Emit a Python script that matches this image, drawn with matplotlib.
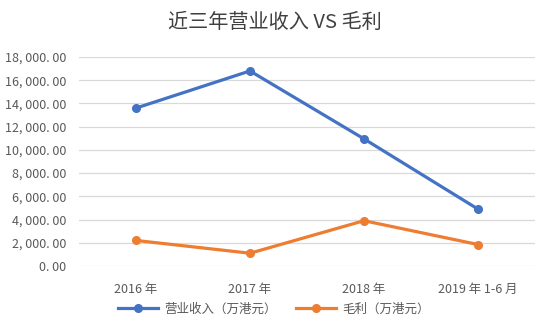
import matplotlib
matplotlib.use("Agg")
import matplotlib.pyplot as plt
from matplotlib.ticker import FuncFormatter

plt.rcParams['font.family'] = ['Noto Sans CJK SC', 'DejaVu Sans']

categories = ["2016 年", "2017 年", "2018 年", "2019 年 1-6 月"]
revenue = [13600, 16800, 10950, 4900]
gross_profit = [2200, 1100, 3900, 1850]
yticks = [0, 2000, 4000, 6000, 8000, 10000, 12000, 14000, 16000, 18000]

fig = plt.figure(figsize=(5.5, 3.29), dpi=100)
ax = fig.add_axes([0.1436, 0.1915, 0.8291, 0.6352])

x = list(range(len(categories)))
ax.plot(x, revenue, color='#4472C4', lw=2.3, marker='o', ms=5.5, label='营业收入（万港元）', zorder=3)
ax.plot(x, gross_profit, color='#ED7D31', lw=2.3, marker='o', ms=5.5, label='毛利（万港元）', zorder=3)

ax.set_xlim(-0.5, 3.5)
ax.set_ylim(0, 18000)
ax.set_yticks(yticks)
ax.yaxis.set_major_formatter(FuncFormatter(lambda v, p: f"{v:,.2f}".replace(",", ", ").replace(".", ". ")))
ax.set_xticks(x)
ax.set_xticklabels(categories)
ax.grid(axis='y', color='#d9d9d9', lw=0.9)
ax.set_axisbelow(True)
for s in ax.spines.values():
    s.set_visible(False)
ax.tick_params(axis='both', length=0, colors='#595959', labelsize=9)
ax.tick_params(axis='y', pad=9)
ax.tick_params(axis='x', pad=12)

fig.text(0.5, 0.933, "近三年营业收入 VS 毛利", ha='center', va='center', fontsize=14.5, color='#404040')

fig.legend(loc='center', bbox_to_anchor=(0.498, 0.06), ncol=2, frameon=False,
           fontsize=9, handlelength=3.2, columnspacing=1.5, labelcolor='#595959', handletextpad=0.5)

fig.savefig("out.png", dpi=100)
